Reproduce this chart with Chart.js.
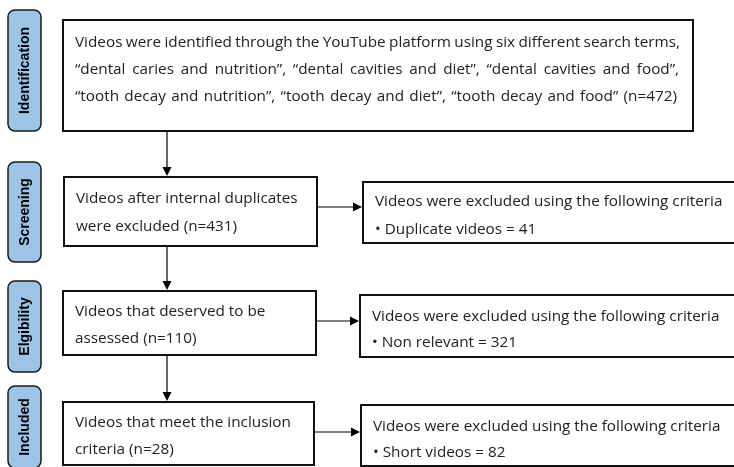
<!DOCTYPE html>
<html>
<head>
<meta charset="utf-8">
<script src="https://cdn.jsdelivr.net/npm/chart.js@4/dist/chart.umd.min.js"></script>
<style>
html,body{margin:0;padding:0;background:#fff;}
canvas{display:block;}
</style>
</head>
<body>
<canvas id="c" width="734" height="467"></canvas>
<script>
// ---- data ----
const stages = ['Identification', 'Screening', 'Elgibility', 'Included'];
const stageCounts = [472, 431, 110, 28];
const excludedCounts = [41, 321, 82];
const excludedReasons = ['Duplicate videos', 'Non relevant', 'Short videos'];
const searchTerms = [
  'dental caries and nutrition', 'dental cavities and diet', 'dental cavities and food',
  'tooth decay and nutrition', 'tooth decay and diet', 'tooth decay and food'
];
const excludedHeader = 'Videos were excluded using the following criteria';

// ---- text built from data ----
const q = t => '\u201C' + t + '\u201D';
const mainTexts = [
  ['Videos were identified through the YouTube platform using six different search terms,',
   searchTerms.slice(0, 3).map(q).join(', ') + ',',
   searchTerms.slice(3).map(q).join(', ') + ' (n=' + stageCounts[0] + ')'],
  ['Videos after internal duplicates', 'were excluded (n=' + stageCounts[1] + ')'],
  ['Videos that deserved to be', 'assessed (n=' + stageCounts[2] + ')'],
  ['Videos that meet the inclusion', 'criteria (n=' + stageCounts[3] + ')']
];
const excludedTexts = excludedReasons.map((r, i) => [excludedHeader, '\u2022 ' + r + ' = ' + excludedCounts[i]]);

// ---- layout (pixel-space values mapped through the chart scales) ----
const L = {
  labels: [[8, 41, 10, 131], [8, 41, 162, 262], [8, 41, 281, 372], [8, 41, 386, 468]],
  main: [[63, 693, 20, 131], [64, 317, 177, 246], [63, 316, 291, 355], [63, 314, 402, 465]],
  mainLines: [[43, 70, 97], [199, 227], [312, 339], [423, 450]],
  justifyTo: [[680, 679, 677], [0, 0], [0, 0], [0, 0]],
  exc: [[363, 740, 182, 243], [360, 740, 295, 357], [361, 740, 405, 466]],
  excLines: [[202, 230], [317, 343], [427, 453]],
  vArrowX: 167,
  hArrowY: [207, 321, 432]
};
const FONT = '15.3px "Open Sans"';

const flowPlugin = {
  id: 'flow',
  afterDraw(chart) {
    const ctx = chart.ctx, xs = chart.scales.x, ys = chart.scales.y;
    const X = v => xs.getPixelForValue(v), Y = v => ys.getPixelForValue(v);
    ctx.save();

    // stage labels
    stages.forEach((s, i) => {
      const [x0, x1, y0, y1] = L.labels[i];
      ctx.beginPath();
      ctx.roundRect(X(x0), Y(y0), X(x1) - X(x0), Y(y1) - Y(y0), 7);
      ctx.fillStyle = '#9dc3e6';
      ctx.fill();
      ctx.lineWidth = 1.5;
      ctx.strokeStyle = '#1a1a1a';
      ctx.stroke();
      ctx.save();
      ctx.translate(X((x0 + x1) / 2) + 1, Y((y0 + y1) / 2));
      ctx.rotate(-Math.PI / 2);
      ctx.fillStyle = '#000';
      ctx.font = 'bold 14px "Liberation Sans", Arial, sans-serif';
      ctx.textAlign = 'center';
      ctx.textBaseline = 'middle';
      ctx.fillText(s, 0, 0);
      ctx.restore();
    });

    function box(b) {
      const [x0, x1, y0, y1] = b;
      ctx.lineWidth = 2;
      ctx.strokeStyle = '#111';
      ctx.strokeRect(X(x0), Y(y0), X(x1) - X(x0), Y(y1) - Y(y0));
    }
    function drawLine(text, x, y, xEnd) {
      if (!xEnd) { ctx.fillText(text, x, y); return; }
      const words = text.split(' ');
      const wsum = words.reduce((a, w) => a + ctx.measureText(w).width, 0);
      const gap = (xEnd - x - wsum) / (words.length - 1);
      let cx = x;
      words.forEach(w => { ctx.fillText(w, cx, y); cx += ctx.measureText(w).width + gap; });
    }

    ctx.font = FONT;
    ctx.fillStyle = '#222';
    ctx.textAlign = 'left';
    ctx.textBaseline = 'middle';

    mainTexts.forEach((lines, i) => {
      box(L.main[i]);
      const [x0] = L.main[i];
      lines.forEach((t, j) => {
        const je = L.justifyTo[i][j];
        drawLine(t, X(x0 + 12), Y(L.mainLines[i][j]), je ? X(je) : 0);
      });
    });
    excludedTexts.forEach((lines, i) => {
      box(L.exc[i]);
      const [x0] = L.exc[i];
      lines.forEach((t, j) => ctx.fillText(t, X(x0 + 12), Y(L.excLines[i][j])));
    });

    // arrows
    function arrow(xa, ya, xb, yb) {
      const ax = X(xa), ay = Y(ya), bx = X(xb), by = Y(yb);
      const ang = Math.atan2(by - ay, bx - ax), len = 9, hw = 4.5;
      ctx.strokeStyle = '#000';
      ctx.fillStyle = '#000';
      ctx.lineWidth = 1.2;
      ctx.beginPath();
      ctx.moveTo(ax, ay);
      ctx.lineTo(bx - Math.cos(ang) * len, by - Math.sin(ang) * len);
      ctx.stroke();
      ctx.beginPath();
      ctx.moveTo(bx, by);
      ctx.lineTo(bx - Math.cos(ang) * len - Math.sin(ang) * hw, by - Math.sin(ang) * len + Math.cos(ang) * hw);
      ctx.lineTo(bx - Math.cos(ang) * len + Math.sin(ang) * hw, by - Math.sin(ang) * len - Math.cos(ang) * hw);
      ctx.closePath();
      ctx.fill();
    }
    for (let i = 0; i < 3; i++) {
      arrow(L.vArrowX, L.main[i][3] + 1, L.vArrowX, L.main[i + 1][2] - 1);
      arrow(L.main[i + 1][1] + 1, L.hArrowY[i], L.exc[i][0] - 1, L.hArrowY[i]);
    }
    ctx.restore();
  }
};

new Chart(document.getElementById('c'), {
  type: 'scatter',
  data: { datasets: [] },
  options: {
    responsive: false,
    animation: false,
    events: [],
    layout: { padding: 0 },
    plugins: { legend: { display: false }, tooltip: { enabled: false } },
    scales: {
      x: { type: 'linear', min: 0, max: 734, display: false },
      y: { type: 'linear', min: 0, max: 467, reverse: true, display: false }
    }
  },
  plugins: [flowPlugin]
});
</script>
</body>
</html>
